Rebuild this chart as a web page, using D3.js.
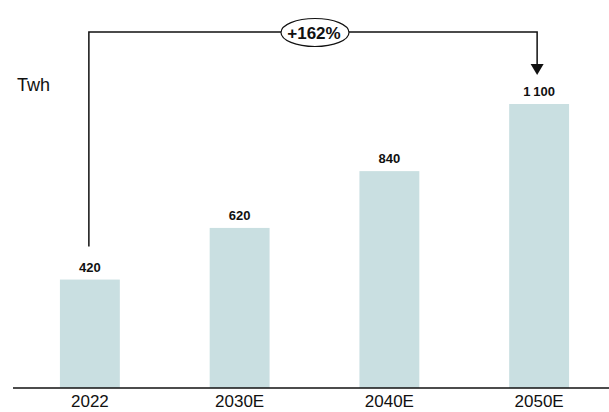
<!DOCTYPE html>
<html>
<head>
<meta charset="utf-8">
<script src="https://cdn.jsdelivr.net/npm/d3@7"></script>
<style>
  html, body { margin: 0; padding: 0; background: #ffffff; }
  svg { display: block; font-family: "Liberation Sans", Arial, sans-serif; }
</style>
</head>
<body>
<svg id="chart" width="609" height="412"></svg>
<script>
// Electricity demand, TWh
const categories = ["2022", "2030E", "2040E", "2050E"];
const values = [420, 620, 840, 1100];
const valueLabels = ["420", "620", "840", "1\u2009100"];
const growthLabel = "+162%";
const unitLabel = "Twh";

const svg = d3.select("#chart");

const x = d3.scaleBand()
  .domain(categories)
  .range([15, 614])
  .paddingInner(0.6)
  .paddingOuter(0.3);

const y = d3.scaleLinear()
  .domain([0, 1100])
  .range([388, 104]);

const barColor = "#c9dfe1";

// bars
svg.append("g")
  .selectAll("rect")
  .data(values)
  .join("rect")
  .attr("x", (d, i) => x(categories[i]))
  .attr("y", d => y(d))
  .attr("width", x.bandwidth())
  .attr("height", d => y(0) - y(d))
  .attr("fill", barColor);

// value labels
svg.append("g")
  .selectAll("text")
  .data(values)
  .join("text")
  .attr("x", (d, i) => x(categories[i]) + x.bandwidth() / 2)
  .attr("y", d => y(d) - 8)
  .attr("text-anchor", "middle")
  .attr("font-size", 13)
  .attr("font-weight", "bold")
  .attr("fill", "#111")
  .text((d, i) => valueLabels[i]);

// baseline axis
const axis = svg.append("g")
  .attr("transform", `translate(0,${y(0)})`)
  .call(d3.axisBottom(x).tickSize(0).tickPadding(7));
axis.select(".domain").attr("d", `M13,0H609`).attr("stroke", "#111").attr("stroke-width", 1.5);
axis.selectAll("text")
  .attr("font-size", 17)
  .attr("fill", "#111")
  .attr("font-family", "Liberation Sans, Arial, sans-serif");

// unit label
svg.append("text")
  .attr("x", 17)
  .attr("y", 91)
  .attr("font-size", 18)
  .attr("fill", "#111")
  .text(unitLabel);

// growth connector from first to last bar
const first = categories[0], last = categories[categories.length - 1];
const cx0 = x(first) + x.bandwidth() / 2 - 1;
const cx1 = x(last) + x.bandwidth() / 2 - 2;
const topY = 32;
const startY = y(values[0]) - 33;
const tipY = y(values[values.length - 1]) - 29;
const headH = 11, headW = 13;

svg.append("path")
  .attr("d", `M${cx0},${startY}V${topY}H${cx1}V${tipY - headH + 1}`)
  .attr("fill", "none")
  .attr("stroke", "#111")
  .attr("stroke-width", 1.5);

svg.append("path")
  .attr("d", `M${cx1 - headW / 2},${tipY - headH}L${cx1 + headW / 2},${tipY - headH}L${cx1},${tipY}Z`)
  .attr("fill", "#111");

const midX = 315;
svg.append("ellipse")
  .attr("cx", midX)
  .attr("cy", topY + 0.5)
  .attr("rx", 34)
  .attr("ry", 14)
  .attr("fill", "#fff")
  .attr("stroke", "#111")
  .attr("stroke-width", 1.2);

svg.append("text")
  .attr("x", midX - 1)
  .attr("y", topY + 6.5)
  .attr("text-anchor", "middle")
  .attr("font-size", 17)
  .attr("font-weight", "bold")
  .attr("fill", "#111")
  .text(growthLabel);
</script>
</body>
</html>
